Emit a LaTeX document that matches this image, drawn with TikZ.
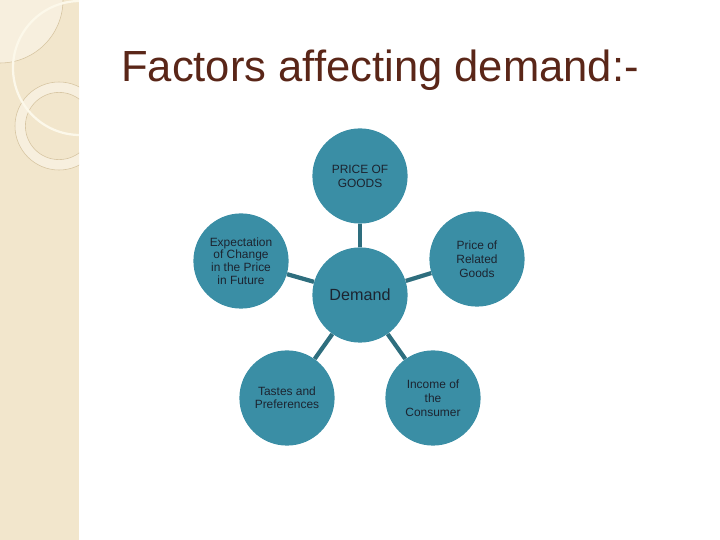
\documentclass[tikz,border=0pt]{standalone}
\usepackage{fontspec}
\setmainfont{Liberation Sans}
\usepackage{tikz}
\usetikzlibrary{positioning,calc}
\definecolor{stripbg}{RGB}{242,230,204}
\definecolor{stripfg}{RGB}{247,239,222}
\definecolor{stripln}{RGB}{214,196,160}
\definecolor{stripwh}{RGB}{252,248,234}
\definecolor{titlebrown}{RGB}{90,38,24}
\definecolor{teal0}{RGB}{58,142,165}
\definecolor{teal1}{RGB}{46,110,126}
\definecolor{ink}{RGB}{28,36,48}

\begin{document}
\begin{tikzpicture}[
  factor/.style={circle,fill=teal0,minimum size=2.38cm,inner sep=0pt,
    align=center,text=ink,font=\fontsize{8.5}{10}\selectfont},
  tight/.style={factor,font=\fontsize{8.5}{9}\selectfont},
  hub/.style={factor,font=\fontsize{11.5}{13}\selectfont},
  link/.style={teal1,line width=3pt}]
\useasboundingbox (0,0) rectangle (18,13.5);

% Left strip
\fill[stripbg] (0,0) rectangle (1.975,13.5);
\begin{scope}
  \clip (0,0) rectangle (1.975,13.5);
  \filldraw[fill=stripfg,draw=stripln,line width=0.4pt] (0,13.5) circle (1.575);
  \filldraw[fill=stripfg,draw=stripln,line width=0.4pt,even odd rule]
    (1.475,10.35) circle (1.1) (1.475,10.35) circle (0.84);
  \draw[stripwh,line width=1.6pt] (2.0,11.8) circle (1.675);
\end{scope}

% Title
\node[text=titlebrown,font=\fontsize{31}{36}\selectfont,anchor=base]
  (title) at (9.5,11.45) {Factors affecting demand:-};

% Circles
\node[hub] (demand) at (9,6.125) {Demand};
\node[factor] (price) at (9,9.1) {PRICE OF\\GOODS};
\node[tight] (expect) at (6.025,6.975) {Expectation\\of Change\\in the Price\\in Future};
\node[factor] (related) at (11.925,7.025) {Price of\\Related\\Goods};
\node[tight] (tastes) at (7.175,3.55) {Tastes and\\Preferences};
\node[factor] (income) at (10.825,3.55) {Income of\\the\\Consumer};

% Connectors
\foreach \n in {price,expect,related,tastes,income}
  \draw[link] (demand) -- (\n);
\end{tikzpicture}
\end{document}
